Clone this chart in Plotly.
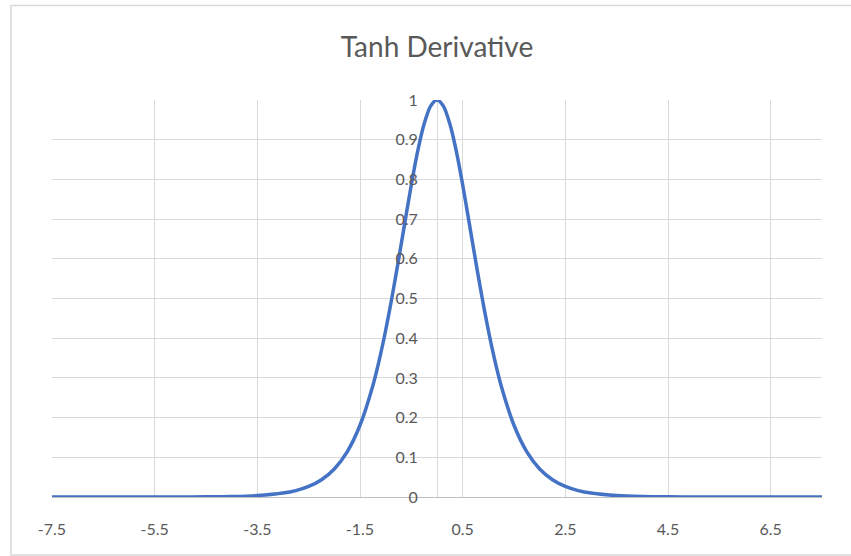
import plotly.graph_objects as go

# Derivative of tanh, sampled along x
x_vals = [-7.5, -7.0, -6.0, -5.0, -4.5, -4.0, -3.5, -3.0, -2.75, -2.5, -2.25, -2.0,
          -1.75, -1.5, -1.25, -1.125, -1.0, -0.875, -0.75, -0.625, -0.5, -0.375, -0.25, -0.125, 0.0,
          0.125, 0.25, 0.375, 0.5, 0.625, 0.75, 0.875, 1.0, 1.125, 1.25, 1.5, 1.75, 2.0,
          2.25, 2.5, 2.75, 3.0, 3.5, 4.0, 4.5, 5.0, 6.0, 7.0, 7.5]
y_vals = [0.0000012, 0.0000033, 0.0000246, 0.000182, 0.000494, 0.00134, 0.00364, 0.00987, 0.0162, 0.0266, 0.0435, 0.0707,
          0.1138, 0.1807, 0.2804, 0.3450, 0.4200, 0.5045, 0.5966, 0.6924, 0.7864, 0.8716, 0.9400, 0.9845, 1.0,
          0.9845, 0.9400, 0.8716, 0.7864, 0.6924, 0.5966, 0.5045, 0.4200, 0.3450, 0.2804, 0.1807, 0.1138, 0.0707,
          0.0435, 0.0266, 0.0162, 0.00987, 0.00364, 0.00134, 0.000494, 0.000182, 0.0000246, 0.0000033, 0.0000012]

x_ticks = [-7.5, -5.5, -3.5, -1.5, 0.5, 2.5, 4.5, 6.5]
y_ticks = [0, 0.1, 0.2, 0.3, 0.4, 0.5, 0.6, 0.7, 0.8, 0.9, 1]

x_min, x_max = -7.5, 7.5
y_min, y_max = 0, 1

label_font = dict(family="Lato, 'Open Sans', sans-serif", size=16, color="#595959")
grid_col = "#d9d9d9"

fig = go.Figure()
fig.add_trace(go.Scatter(
    x=x_vals, y=y_vals, mode="lines",
    line=dict(color="#4472C4", width=3.5, shape="spline", smoothing=0.8),
    showlegend=False, hoverinfo="skip",
))

fig.update_layout(
    width=851, height=556,
    margin=dict(l=52, r=29, t=100, b=59),
    paper_bgcolor="white", plot_bgcolor="white",
    title=dict(text="Tanh Derivative", x=0.5, xref="paper", xanchor="center",
               y=1 - 47 / 556, yref="container", yanchor="middle",
               font=dict(family="Lato, 'Open Sans', sans-serif", size=28, color="#595959")),
    xaxis=dict(
        range=[x_min, x_max], tickmode="array", tickvals=x_ticks,
        ticktext=[f"{v:g}" for v in x_ticks],
        showgrid=True, gridcolor=grid_col, gridwidth=1,
        zeroline=True, zerolinecolor=grid_col, zerolinewidth=1,
        showline=False, ticks="outside", ticklen=18, tickcolor="rgba(0,0,0,0)",
        tickfont=label_font, fixedrange=True,
    ),
    yaxis=dict(
        range=[y_min, y_max], tickmode="array", tickvals=y_ticks,
        ticktext=[f"{v:g}" for v in y_ticks],
        showgrid=True, gridcolor=grid_col, gridwidth=1,
        zeroline=True, zerolinecolor="#bfbfbf", zerolinewidth=1,
        anchor="free", position=(0 - x_min) / (x_max - x_min),
        showline=False, ticks="outside", ticklen=16, tickcolor="rgba(0,0,0,0)",
        tickfont=label_font, fixedrange=True,
    ),
    shapes=[dict(
        type="rect", xref="paper", yref="paper",
        x0=(11 - 52) / 770, x1=(860 - 52) / 770,
        y0=(497 - 555) / 397, y1=(497 - 5.5) / 397,
        line=dict(color=grid_col, width=1.5), fillcolor="rgba(0,0,0,0)", layer="below",
    )],
)

fig.write_html("out.html")
